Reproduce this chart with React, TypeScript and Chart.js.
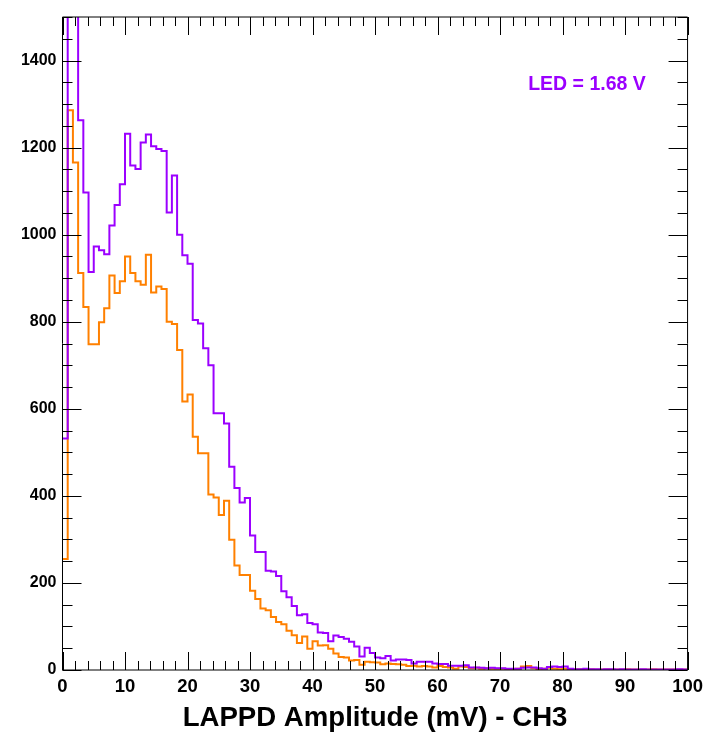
import React, { useEffect, useRef } from "react";
import { Chart, registerables } from "chart.js";

Chart.register(...registerables);

// Histogram range and binning (LAPPD amplitude, mV)
const X_MIN = 0;
const X_MAX = 100;
const N_BINS = 120;
const Y_MIN = 0;
const Y_MAX = 1500;

const xTickValues = [0, 10, 20, 30, 40, 50, 60, 70, 80, 90, 100];
const yTickValues = [0, 200, 400, 600, 800, 1000, 1200, 1400];
const xMinorStep = 2;
const yMinorStep = 50;

const ledLabel = "LED = 1.68 V";
const xTitle = "LAPPD Amplitude (mV) - CH3";

// Purple histogram (counts per bin)
const purpleCounts = [
  532, 1600, 1600, 1263, 1097, 914, 973, 964, 955, 1021,
  1068, 1116, 1232, 1159, 1151, 1212, 1230, 1203, 1197, 1192,
  1051, 1136, 1000, 953, 933, 804, 796, 739, 700, 590,
  590, 566, 467, 418, 385, 395, 309, 271, 271, 228,
  226, 216, 181, 167, 147, 126, 128, 108, 105, 86,
  85, 66, 79, 76, 72, 65, 54, 31, 51, 39,
  29, 27, 32, 22, 24, 24, 23, 15, 19, 19,
  19, 15, 14, 14, 10, 10, 10, 11, 6, 6,
  5, 4, 5, 4, 4, 3, 3, 3, 5, 6,
  6, 4, 3, 7, 8, 7, 8, 3, 2, 2,
  3, 2, 2, 1, 2, 2, 1, 2, 1, 1,
  1, 2, 1, 1, 1, 1, 1, 1, 2, 1,
];

// Orange histogram (counts per bin)
const orangeCounts = [
  255, 1286, 1166, 912, 834, 748, 748, 799, 831, 906,
  866, 893, 950, 912, 893, 885, 954, 867, 881, 875,
  800, 795, 735, 617, 633, 536, 498, 498, 403, 396,
  356, 389, 299, 240, 218, 218, 182, 163, 141, 137,
  122, 110, 105, 90, 80, 62, 77, 49, 66, 56,
  57, 49, 38, 30, 29, 22, 23, 12, 19, 18,
  17, 13, 15, 14, 13, 12, 9, 10, 8, 9,
  8, 6, 9, 7, 6, 3, 8, 7, 4, 5,
  3, 4, 3, 3, 3, 2, 2, 3, 8, 9,
  4, 2, 3, 5, 3, 2, 3, 2, 2, 2,
  1, 2, 1, 1, 2, 1, 1, 1, 2, 1,
  1, 1, 1, 2, 1, 1, 1, 1, 1, 1,
];

const PURPLE = "rgb(155, 0, 255)";
const ORANGE = "rgb(255, 128, 0)";
const FONT = "'Liberation Sans', Arial, Helvetica, sans-serif";

function toSteps(counts: number[]) {
  const w = (X_MAX - X_MIN) / N_BINS;
  const pts = counts.map((c, i) => ({ x: X_MIN + i * w, y: c }));
  pts.push({ x: X_MAX, y: counts[counts.length - 1] });
  return pts;
}

const frameTicks = {
  id: "frameTicks",
  afterDatasetsDraw(chart: any) {
    const { ctx, chartArea: a, scales } = chart;
    const x = scales.x;
    const y = scales.y;
    ctx.save();
    ctx.strokeStyle = "#000";
    ctx.lineWidth = 1;
    ctx.beginPath();
    ctx.rect(a.left, a.top, a.right - a.left, a.bottom - a.top);
    for (let v = X_MIN; v <= X_MAX + 1e-9; v += xMinorStep) {
      const px = Math.round(x.getPixelForValue(v)) + 0.5;
      const L = Math.abs(v % 10) < 1e-6 ? 18 : 9;
      ctx.moveTo(px, a.bottom);
      ctx.lineTo(px, a.bottom - L);
      ctx.moveTo(px, a.top);
      ctx.lineTo(px, a.top + L);
    }
    for (let v = Y_MIN; v <= Y_MAX + 1e-9; v += yMinorStep) {
      const py = Math.round(y.getPixelForValue(v)) + 0.5;
      const L = Math.abs(v % 200) < 1e-6 ? 19 : 10;
      ctx.moveTo(a.left, py);
      ctx.lineTo(a.left + L, py);
      ctx.moveTo(a.right, py);
      ctx.lineTo(a.right - L, py);
    }
    ctx.stroke();
    // LED label
    ctx.fillStyle = PURPLE;
    ctx.font = `bold 19.5px ${FONT}`;
    ctx.textAlign = "left";
    ctx.textBaseline = "middle";
    ctx.fillText(ledLabel, a.left + 0.745 * (a.right - a.left), a.top + 68);
    ctx.restore();
  },
};

export default function App() {
  const canvasRef = useRef<HTMLCanvasElement | null>(null);

  useEffect(() => {
    if (!canvasRef.current) return;
    const chart = new Chart(canvasRef.current, {
      type: "line",
      data: {
        datasets: [
          {
            label: "purple",
            data: toSteps(purpleCounts),
            borderColor: PURPLE,
            borderWidth: 2,
            pointRadius: 0,
            stepped: "before",
            fill: false,
          },
          {
            label: "orange",
            data: toSteps(orangeCounts),
            borderColor: ORANGE,
            borderWidth: 2,
            pointRadius: 0,
            stepped: "before",
            fill: false,
          },
        ],
      },
      options: {
        animation: false,
        responsive: true,
        maintainAspectRatio: false,
        layout: { padding: { left: 0, right: 19.5, top: 17, bottom: 0 } },
        plugins: {
          legend: { display: false },
          tooltip: { enabled: false },
        },
        scales: {
          x: {
            type: "linear",
            min: X_MIN,
            max: X_MAX,
            afterBuildTicks: (s: any) => {
              s.ticks = xTickValues.map((v) => ({ value: v }));
            },
            afterFit: (s: any) => {
              s.height = 64;
            },
            grid: { display: false, drawTicks: false },
            border: { display: false },
            ticks: {
              padding: 6,
              color: "#000",
              maxRotation: 0,
              autoSkip: false,
              callback: (v: any) => String(v),
              font: { family: FONT, size: 18.5, weight: "bold" },
            },
            title: {
              display: true,
              text: xTitle,
              color: "#000",
              font: { family: FONT, size: 27.6, weight: "bold", lineHeight: 1 },
              padding: { top: 0, bottom: 2 },
            },
          },
          y: {
            type: "linear",
            min: Y_MIN,
            max: Y_MAX,
            afterBuildTicks: (s: any) => {
              s.ticks = yTickValues.map((v) => ({ value: v }));
            },
            afterFit: (s: any) => {
              s.width = 62.5;
            },
            grid: { display: false, drawTicks: false },
            border: { display: false },
            ticks: {
              padding: 6,
              color: "#000",
              autoSkip: false,
              callback: (v: any) => String(v),
              font: { family: FONT, size: 16, weight: "bold" },
            },
          },
        },
      },
      plugins: [frameTicks],
    });
    return () => chart.destroy();
  }, []);

  return (
    <div style={{ position: "absolute", left: 0, top: 0, width: 709, height: 734, background: "#fff" }}>
      <canvas ref={canvasRef} />
    </div>
  );
}
